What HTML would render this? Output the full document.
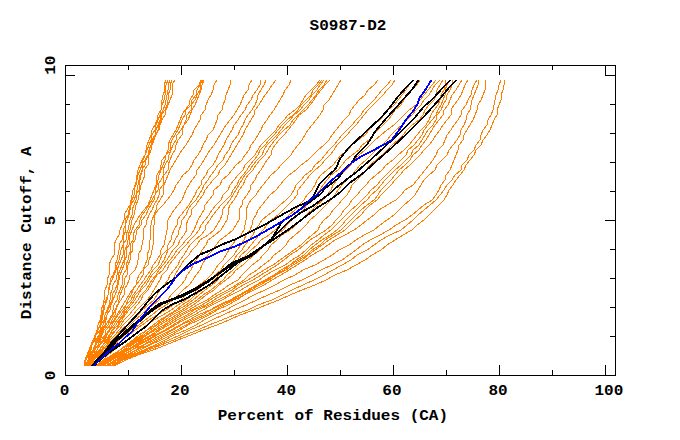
<!DOCTYPE html><html><head><meta charset="utf-8"><style>html,body{margin:0;padding:0;background:#fff;width:680px;height:440px;overflow:hidden}svg{display:block}</style></head><body><svg width="680" height="440" viewBox="0 0 680 440">
<rect width="680" height="440" fill="#fff"/>
<g fill="none" stroke="#ff8000" stroke-width="1" stroke-linecap="square" stroke-linejoin="round" shape-rendering="crispEdges">
<polyline points="166,80 164,85 165,90 163,95 162,100 161,105 161,110 158,115 157,120 155,125 152,130 151,135 149,140 147,145 146,150 145,155 142,160 140,165 138,170 137,175 136,180 136,185 133,190 132,195 131,200 130,205 127,210 124,215 124,220 122,225 120,230 119,235 116,240 114,245 114,250 114,255 111,260 109,265 109,270 109,275 107,280 107,285 105,290 104,295 104,300 103,305 101,310 101,315 100,320 98,325 97,330 96,335 93,340 91,345 89,350 87,355 85,360 84,366"/>
<polyline points="168,80 166,85 165,90 165,95 164,100 162,105 161,110 160,115 158,120 156,125 155,130 152,135 151,140 149,145 147,150 145,155 143,160 142,165 140,170 138,175 137,180 135,185 134,190 134,195 132,200 131,205 129,210 128,215 125,220 126,225 123,230 123,235 122,240 119,245 119,250 118,255 117,260 115,265 115,270 113,275 110,280 110,285 108,290 108,295 106,300 103,305 103,310 102,315 101,320 100,325 98,330 95,335 94,340 92,345 90,350 88,355 85,360 84,366"/>
<polyline points="170,80 168,85 168,90 167,95 166,100 165,105 163,110 161,115 160,120 158,125 156,130 155,135 152,140 151,145 149,150 148,155 145,160 142,165 143,170 140,175 139,180 138,185 137,190 136,195 134,200 131,205 130,210 129,215 127,220 125,225 126,230 124,235 123,240 123,245 121,250 120,255 119,260 117,265 116,270 114,275 112,280 109,285 109,290 108,295 107,300 105,305 104,310 103,315 102,320 101,325 100,330 96,335 95,340 92,345 91,350 89,355 86,360 84,366"/>
<polyline points="172,80 170,85 170,90 168,95 168,100 167,105 165,110 161,115 161,120 159,125 158,130 156,135 153,140 151,145 149,150 149,155 146,160 145,165 142,170 141,175 140,180 139,185 139,190 136,195 136,200 134,205 132,210 132,215 130,220 129,225 128,230 126,235 126,240 123,245 123,250 123,255 121,260 119,265 117,270 117,275 116,280 113,285 112,290 110,295 110,300 109,305 107,310 105,315 104,320 101,325 100,330 99,335 96,340 95,345 93,350 89,355 86,360 85,366"/>
<polyline points="175,80 172,85 173,90 172,95 170,100 168,105 166,110 165,115 162,120 160,125 159,130 155,135 154,140 152,145 151,150 149,155 148,160 148,165 144,170 145,175 143,180 141,185 140,190 139,195 138,200 136,205 135,210 134,215 132,220 131,225 130,230 128,235 128,240 127,245 125,250 124,255 124,260 122,265 120,270 118,275 118,280 117,285 115,290 112,295 112,300 110,305 108,310 107,315 105,320 103,325 101,330 100,335 97,340 95,345 93,350 90,355 88,360 85,366"/>
<polyline points="201,80 199,85 194,90 193,95 190,100 189,105 185,110 182,115 180,120 178,125 176,130 173,135 170,140 168,145 168,150 166,155 162,160 161,165 160,170 157,175 156,180 156,185 154,190 152,195 150,200 148,205 144,210 140,215 137,220 134,225 132,230 130,235 129,240 129,245 126,250 127,255 125,260 124,265 122,270 120,275 119,280 118,285 117,290 115,295 113,300 111,305 110,310 107,315 106,320 105,325 102,330 100,335 98,340 96,345 94,350 91,355 88,360 85,366"/>
<polyline points="202,80 200,85 197,90 196,95 192,100 191,105 186,110 185,115 182,120 180,125 178,130 175,135 172,140 170,145 170,150 166,155 165,160 163,165 161,170 159,175 158,180 157,185 155,190 155,195 152,200 149,205 146,210 142,215 140,220 139,225 135,230 133,235 133,240 130,245 131,250 129,255 128,260 126,265 126,270 123,275 122,280 122,285 120,290 118,295 117,300 114,305 113,310 112,315 109,320 106,325 103,330 101,335 99,340 98,345 93,350 92,355 89,360 86,366"/>
<polyline points="203,80 200,85 200,90 197,95 195,100 191,105 191,110 187,115 186,120 184,125 181,130 177,135 176,140 173,145 171,150 169,155 168,160 165,165 163,170 164,175 161,180 158,185 158,190 155,195 154,200 151,205 148,210 146,215 142,220 141,225 137,230 136,235 135,240 132,245 133,250 130,255 130,260 128,265 127,270 127,275 124,280 124,285 122,290 120,295 119,300 118,305 115,310 113,315 110,320 108,325 104,330 102,335 100,340 98,345 95,350 92,355 90,360 86,366"/>
<polyline points="204,80 202,85 201,90 199,95 197,100 195,105 192,110 190,115 188,120 184,125 182,130 182,135 178,140 176,145 175,150 172,155 170,160 168,165 168,170 164,175 163,180 163,185 159,190 159,195 157,200 154,205 152,210 149,215 147,220 146,225 143,230 143,235 143,240 142,245 141,250 138,255 138,260 137,265 135,270 130,275 129,280 127,285 124,290 124,295 121,300 117,305 116,310 115,315 112,320 110,325 106,330 105,335 101,340 98,345 97,350 93,355 90,360 87,366"/>
<polyline points="217,80 214,85 213,90 211,95 208,100 206,105 205,110 201,115 200,120 197,125 194,130 192,135 189,140 186,145 182,150 179,155 176,160 173,165 170,170 168,175 166,180 164,185 163,190 163,195 160,200 157,205 156,210 154,215 152,220 151,225 150,230 150,235 150,240 149,245 149,250 147,255 147,260 145,265 143,270 139,275 137,280 136,285 132,290 129,295 126,300 123,305 120,310 117,315 114,320 110,325 109,330 106,335 103,340 99,345 97,350 94,355 91,360 87,366"/>
<polyline points="231,80 230,85 228,90 226,95 225,100 223,105 222,110 218,115 217,120 215,125 213,130 208,135 206,140 203,145 201,150 198,155 194,160 192,165 189,170 183,175 180,180 176,185 174,190 171,195 167,200 163,205 158,210 155,215 154,220 154,225 153,230 154,235 153,240 153,245 152,250 151,255 149,260 148,265 143,270 143,275 140,280 136,285 133,290 131,295 128,300 126,305 122,310 118,315 115,320 112,325 110,330 107,335 104,340 100,345 97,350 94,355 91,360 87,366"/>
<polyline points="252,80 249,85 248,90 244,95 242,100 240,105 237,110 234,115 230,120 226,125 223,130 220,135 217,140 214,145 210,150 207,155 204,160 201,165 197,170 196,175 192,180 189,185 186,190 184,195 182,200 178,205 174,210 171,215 168,220 167,225 167,230 166,235 165,240 164,245 161,250 160,255 157,260 153,265 151,270 147,275 144,280 140,285 137,290 133,295 131,300 126,305 124,310 121,315 117,320 114,325 110,330 107,335 105,340 100,345 97,350 95,355 91,360 88,366"/>
<polyline points="261,80 260,85 257,90 253,95 251,100 247,105 245,110 241,115 238,120 234,125 232,130 229,135 226,140 224,145 221,150 218,155 216,160 213,165 208,170 206,175 202,180 201,185 197,190 195,195 192,200 189,205 185,210 181,215 177,220 177,225 174,230 172,235 171,240 168,245 167,250 162,255 160,260 158,265 153,270 150,275 147,280 143,285 140,290 135,295 133,300 129,305 125,310 123,315 119,320 116,325 112,330 110,335 106,340 103,345 99,350 96,355 91,360 88,366"/>
<polyline points="266,80 264,85 261,90 258,95 257,100 255,105 252,110 248,115 245,120 243,125 240,130 238,135 234,140 231,145 229,150 225,155 223,160 218,165 215,170 211,175 208,180 204,185 202,190 199,195 196,200 191,205 188,210 186,215 182,220 181,225 179,230 178,235 175,240 173,245 168,250 166,255 164,260 161,265 157,270 152,275 149,280 146,285 141,290 138,295 135,300 131,305 127,310 124,315 120,320 118,325 113,330 109,335 107,340 103,345 99,350 97,355 92,360 89,366"/>
<polyline points="276,80 272,85 269,90 265,95 262,100 259,105 255,110 254,115 251,120 248,125 245,130 243,135 240,140 237,145 234,150 231,155 228,160 225,165 220,170 218,175 213,180 209,185 205,190 203,195 199,200 196,205 191,210 191,215 188,220 186,225 187,230 184,235 180,240 178,245 173,250 170,255 167,260 163,265 159,270 156,275 152,280 149,285 146,290 141,295 138,300 134,305 129,310 125,315 122,320 119,325 116,330 110,335 108,340 103,345 100,350 97,355 93,360 89,366"/>
<polyline points="291,80 289,85 285,90 283,95 280,100 277,105 274,110 270,115 267,120 263,125 261,130 258,135 255,140 251,145 249,150 245,155 242,160 236,165 232,170 228,175 222,180 220,185 214,190 213,195 209,200 205,205 204,210 201,215 198,220 196,225 194,230 191,235 186,240 182,245 177,250 174,255 170,260 166,265 163,270 157,275 154,280 151,285 148,290 143,295 141,300 137,305 133,310 129,315 124,320 121,325 116,330 112,335 109,340 105,345 101,350 98,355 93,360 89,366"/>
<polyline points="320,80 316,85 311,90 306,95 303,100 300,105 295,110 288,115 284,120 279,125 276,130 271,135 266,140 261,145 258,150 255,155 250,160 245,165 243,170 238,175 234,180 230,185 228,190 223,195 221,200 216,205 212,210 209,215 205,220 201,225 199,230 195,235 190,240 186,245 181,250 177,255 173,260 169,265 167,270 162,275 160,280 157,285 154,290 151,295 147,300 142,305 137,310 133,315 128,320 123,325 119,330 115,335 110,340 107,345 102,350 99,355 94,360 90,366"/>
<polyline points="322,80 318,85 313,90 311,95 306,100 301,105 298,110 293,115 287,120 282,125 278,130 274,135 269,140 265,145 260,150 258,155 254,160 250,165 247,170 243,175 239,180 237,185 233,190 231,195 226,200 221,205 217,210 213,215 210,220 206,225 205,230 201,235 195,240 190,245 187,250 184,255 180,260 178,265 174,270 170,275 168,280 164,285 160,290 157,295 154,300 148,305 142,310 138,315 131,320 127,325 121,330 117,335 112,340 107,345 103,350 100,355 96,360 90,366"/>
<polyline points="324,80 320,85 317,90 312,95 309,100 304,105 300,110 294,115 290,120 285,125 281,130 277,135 272,140 267,145 264,150 262,155 257,160 253,165 250,170 245,175 242,180 239,185 236,190 233,195 230,200 226,205 222,210 222,215 220,220 217,225 214,230 208,235 200,240 197,245 192,250 189,255 184,260 181,265 178,270 175,275 173,280 170,285 166,290 161,295 159,300 153,305 146,310 141,315 135,320 130,325 125,330 118,335 113,340 108,345 105,350 100,355 96,360 91,366"/>
<polyline points="327,80 324,85 319,90 316,95 312,100 308,105 303,110 298,115 293,120 290,125 284,130 279,135 275,140 271,145 268,150 265,155 260,160 256,165 253,170 248,175 245,180 243,185 239,190 237,195 234,200 230,205 228,210 228,215 227,220 224,225 221,230 215,235 208,240 206,245 202,250 200,255 196,260 193,265 191,270 187,275 185,280 181,285 176,290 171,295 168,300 162,305 154,310 146,315 140,320 134,325 129,330 122,335 115,340 112,345 107,350 101,355 96,360 91,366"/>
<polyline points="330,80 325,85 321,90 317,95 314,100 310,105 306,110 299,115 296,120 292,125 288,130 284,135 279,140 275,145 272,150 271,155 267,160 264,165 261,170 257,175 255,180 251,185 250,190 247,195 243,200 242,205 239,210 240,215 239,220 236,225 233,230 227,235 220,240 216,245 213,250 208,255 205,260 202,265 200,270 196,275 193,280 189,285 183,290 178,295 173,300 166,305 158,310 152,315 145,320 139,325 131,330 125,335 119,340 115,345 108,350 103,355 98,360 92,366"/>
<polyline points="341,80 338,85 335,90 332,95 329,100 324,105 323,110 320,115 316,120 312,125 308,130 305,135 302,140 298,145 294,150 291,155 286,160 281,165 277,170 271,175 267,180 263,185 259,190 256,195 251,200 248,205 246,210 246,215 246,220 245,225 244,230 241,235 236,240 232,245 229,250 226,255 223,260 218,265 215,270 211,275 206,280 199,285 193,290 186,295 181,300 173,305 166,310 157,315 149,320 142,325 135,330 129,335 122,340 118,345 111,350 105,355 100,360 94,366"/>
<polyline points="378,80 374,85 368,90 365,95 359,100 355,105 351,110 349,115 344,120 340,125 336,130 332,135 329,140 324,145 318,150 313,155 308,160 301,165 296,170 289,175 284,180 280,185 276,190 270,195 266,200 262,205 258,210 256,215 253,220 252,225 250,230 246,235 244,240 241,245 237,250 234,255 229,260 224,265 221,270 215,275 210,280 203,285 197,290 192,295 186,300 178,305 171,310 163,315 154,320 147,325 140,330 134,335 127,340 121,345 114,350 108,355 103,360 96,366"/>
<polyline points="391,80 387,85 382,90 378,95 374,100 369,105 364,110 361,115 356,120 352,125 347,130 342,135 338,140 334,145 329,150 325,155 321,160 315,165 312,170 305,175 301,180 296,185 294,190 291,195 286,200 280,205 275,210 268,215 262,220 259,225 255,230 253,235 249,240 245,245 242,250 237,255 234,260 230,265 224,270 219,275 214,280 209,285 202,290 195,295 190,300 182,305 176,310 168,315 160,320 153,325 147,330 139,335 133,340 126,345 120,350 112,355 104,360 97,366"/>
<polyline points="395,80 392,85 387,90 383,95 378,100 373,105 368,110 364,115 360,120 356,125 351,130 347,135 342,140 337,145 334,150 330,155 325,160 321,165 315,170 310,175 306,180 302,185 298,190 297,195 293,200 288,205 283,210 278,215 271,220 267,225 263,230 259,235 255,240 251,245 247,250 241,255 238,260 233,265 228,270 221,275 218,280 212,285 205,290 199,295 193,300 186,305 178,310 169,315 162,320 156,325 147,330 142,335 134,340 127,345 120,350 113,355 104,360 97,366"/>
<polyline points="414,80 409,85 406,90 402,95 398,100 394,105 388,110 384,115 380,120 373,125 369,130 365,135 358,140 352,145 348,150 341,155 337,160 333,165 327,170 321,175 317,180 315,185 312,190 307,195 304,200 299,205 295,210 289,215 284,220 280,225 275,230 269,235 261,240 257,245 251,250 246,255 243,260 238,265 233,270 227,275 223,280 217,285 211,290 203,295 197,300 189,305 182,310 172,315 165,320 157,325 150,330 144,335 136,340 128,345 120,350 114,355 106,360 98,366"/>
<polyline points="420,80 417,85 412,90 407,95 404,100 401,105 395,110 392,115 388,120 383,125 378,130 373,135 369,140 362,145 359,150 352,155 346,160 342,165 338,170 331,175 327,180 323,185 320,190 316,195 313,200 307,205 303,210 298,215 292,220 287,225 283,230 275,235 270,240 264,245 260,250 254,255 248,260 243,265 236,270 232,275 226,280 219,285 214,290 206,295 200,300 193,305 185,310 176,315 168,320 160,325 153,330 146,335 138,340 130,345 123,350 115,355 106,360 99,366"/>
<polyline points="436,80 432,85 428,90 424,95 420,100 416,105 409,110 404,115 399,120 394,125 387,130 381,135 375,140 370,145 365,150 359,155 354,160 351,165 346,170 341,175 337,180 333,185 331,190 327,195 323,200 317,205 312,210 306,215 301,220 296,225 290,230 282,235 277,240 271,245 268,250 263,255 259,260 252,265 247,270 242,275 238,280 229,285 222,290 214,295 207,300 197,305 189,310 179,315 171,320 164,325 155,330 147,335 140,340 132,345 125,350 116,355 107,360 99,366"/>
<polyline points="440,80 435,85 432,90 429,95 424,100 421,105 416,110 412,115 407,120 402,125 396,130 391,135 387,140 382,145 376,150 371,155 366,160 360,165 356,170 352,175 347,180 342,185 338,190 335,195 331,200 326,205 321,210 316,215 310,220 306,225 301,230 295,235 289,240 286,245 281,250 274,255 270,260 263,265 257,270 249,275 244,280 236,285 228,290 218,295 210,300 202,305 192,310 182,315 174,320 166,325 158,330 151,335 142,340 135,345 127,350 117,355 109,360 100,366"/>
<polyline points="443,80 440,85 437,90 436,95 434,100 429,105 425,110 423,115 419,120 412,125 407,130 403,135 398,140 392,145 387,150 382,155 376,160 370,165 366,170 362,175 357,180 352,185 350,190 347,195 342,200 338,205 333,210 330,215 324,220 320,225 318,230 312,235 306,240 301,245 294,250 287,255 280,260 273,265 264,270 256,275 248,280 238,285 232,290 222,295 214,300 206,305 194,310 187,315 177,320 169,325 160,330 153,335 144,340 136,345 128,350 119,355 111,360 101,366"/>
<polyline points="446,80 445,85 444,90 441,95 440,100 438,105 434,110 431,115 429,120 426,125 421,130 417,135 413,140 409,145 404,150 398,155 393,160 386,165 382,170 376,175 370,180 366,185 361,190 357,195 352,200 349,205 344,210 341,215 336,220 332,225 326,230 318,235 310,240 304,245 298,250 290,255 284,260 277,265 269,270 261,275 253,280 243,285 235,290 228,295 218,300 209,305 198,310 190,315 181,320 173,325 165,330 155,335 147,340 137,345 129,350 120,355 110,360 102,366"/>
<polyline points="450,80 447,85 445,90 445,95 443,100 441,105 438,110 436,115 432,120 428,125 424,130 422,135 418,140 414,145 408,150 406,155 401,160 396,165 391,170 386,175 381,180 377,185 371,190 367,195 362,200 357,205 351,210 346,215 341,220 336,225 331,230 324,235 318,240 311,245 306,250 300,255 292,260 285,265 275,270 266,275 259,280 249,285 241,290 231,295 222,300 212,305 203,310 194,315 184,320 175,325 167,330 157,335 149,340 139,345 132,350 122,355 112,360 103,366"/>
<polyline points="453,80 452,85 450,90 447,95 446,100 443,105 441,110 437,115 436,120 433,125 428,130 425,135 422,140 419,145 413,150 411,155 406,160 401,165 395,170 390,175 385,180 381,185 377,190 371,195 367,200 361,205 356,210 351,215 346,220 342,225 337,230 330,235 322,240 315,245 309,250 304,255 296,260 290,265 281,270 274,275 265,280 256,285 248,290 239,295 230,300 219,305 210,310 198,315 189,320 180,325 171,330 161,335 152,340 143,345 132,350 124,355 115,360 105,366"/>
<polyline points="462,80 459,85 456,90 452,95 450,100 448,105 444,110 443,115 439,120 435,125 432,130 429,135 426,140 422,145 419,150 413,155 410,160 405,165 399,170 395,175 391,180 386,185 381,190 378,195 374,200 367,205 361,210 356,215 351,220 346,225 341,230 333,235 325,240 320,245 312,250 307,255 299,260 290,265 284,270 274,275 267,280 257,285 249,290 241,295 232,300 221,305 211,310 202,315 192,320 181,325 173,330 164,335 155,340 144,345 136,350 126,355 115,360 106,366"/>
<polyline points="468,80 465,85 463,90 461,95 458,100 454,105 451,110 451,115 447,120 443,125 440,130 436,135 433,140 429,145 424,150 420,155 415,160 410,165 404,170 400,175 395,180 391,185 386,190 381,195 377,200 370,205 365,210 361,215 355,220 350,225 345,230 337,235 329,240 322,245 315,250 308,255 302,260 293,265 286,270 276,275 269,280 260,285 251,290 244,295 234,300 224,305 215,310 206,315 195,320 186,325 177,330 167,335 158,340 148,345 137,350 128,355 117,360 107,366"/>
<polyline points="477,80 474,85 472,90 471,95 468,100 466,105 462,110 461,115 458,120 454,125 451,130 447,135 445,140 443,145 438,150 436,155 433,160 429,165 425,170 421,175 417,180 413,185 405,190 401,195 396,200 387,205 379,210 374,215 367,220 361,225 354,230 345,235 335,240 328,245 321,250 312,255 305,260 297,265 289,270 281,275 272,280 264,285 254,290 244,295 237,300 228,305 217,310 209,315 199,320 188,325 180,330 171,335 161,340 150,345 140,350 130,355 118,360 108,366"/>
<polyline points="479,80 478,85 476,90 474,95 472,100 471,105 470,110 467,115 466,120 464,125 461,130 460,135 457,140 453,145 449,150 447,155 442,160 437,165 435,170 429,175 424,180 421,185 418,190 415,195 410,200 404,205 399,210 394,215 387,220 380,225 374,230 364,235 356,240 349,245 339,250 332,255 324,260 315,265 303,270 295,275 284,280 275,285 265,290 254,295 245,300 235,305 226,310 214,315 204,320 196,325 186,330 174,335 165,340 155,345 144,350 132,355 120,360 110,366"/>
<polyline points="486,80 485,85 485,90 483,95 481,100 478,105 477,110 475,115 473,120 470,125 467,130 464,135 463,140 459,145 458,150 456,155 454,160 452,165 450,170 446,175 445,180 441,185 439,190 436,195 432,200 424,205 418,210 412,215 405,220 396,225 389,230 380,235 370,240 362,245 356,250 349,255 342,260 332,265 321,270 312,275 302,280 290,285 280,290 268,295 257,300 246,305 234,310 223,315 212,320 202,325 190,330 180,335 169,340 158,345 146,350 134,355 122,360 111,366"/>
<polyline points="501,80 499,85 498,90 496,95 495,100 494,105 493,110 491,115 488,120 487,125 483,130 481,135 480,140 476,145 474,150 469,155 467,160 462,165 461,170 455,175 452,180 447,185 444,190 440,195 436,200 430,205 424,210 418,215 413,220 407,225 401,230 390,235 381,240 374,245 367,250 357,255 351,260 342,265 333,270 324,275 314,280 303,285 292,290 282,295 272,300 258,305 248,310 234,315 222,320 209,325 198,330 185,335 174,340 161,345 149,350 136,355 123,360 113,366"/>
<polyline points="504,80 504,85 503,90 501,95 501,100 499,105 497,110 497,115 494,120 492,125 490,130 487,135 483,140 481,145 476,150 474,155 470,160 466,165 464,170 460,175 456,180 453,185 449,190 447,195 444,200 439,205 434,210 429,215 424,220 417,225 412,230 403,235 395,240 387,245 381,250 372,255 365,260 356,265 347,270 335,275 326,280 315,285 302,290 290,295 279,300 266,305 254,310 240,315 229,320 217,325 203,330 191,335 178,340 166,345 153,350 138,355 126,360 114,366"/>
</g>
<g fill="none" stroke="#000" stroke-width="1" shape-rendering="crispEdges">
<polyline points="413,80 406,87 398,96 389,108 381,117 365,132 348,148 340,158 339,160 336,167 334,170 327,176 319,184 316,190 313,196 310,200 304,203 297,206 286,212 279,216 265,224 251,231 241,236 235,239 222,244 210,250 200,254 194,259 186,266 176,277 166,284 161,288 154,294 147,302 139,312 128,324 118,335 112,341 104,352 91,366"/>
<polyline points="414,80 407,87 399,96 390,108 382,117 365,133 349,148 341,158 340,160 337,167 335,170 327,177 320,184 317,190 314,196 310,201 304,204 297,207 286,213 279,217 265,225 251,232 241,237 235,240 222,245 210,251 200,255 194,260 187,266 176,278 166,285 161,289 155,294 148,302 140,312 129,324 119,335 113,341 105,352 92,366"/>
<polyline points="418,80 412,89 403,99 397,106 386,118 375,131 367,144 359,152 356,155 351,163 345,168 338,178 325,188 321,193 312,200 306,204 300,209 292,215 286,218 280,224 276,231 271,239 265,244 252,255 231,265 210,279 195,288 181,295 169,300 160,303 154,307 146,314 136,322 129,328 121,335 115,340 105,352 92,366"/>
<polyline points="419,80 413,89 404,99 398,106 387,118 376,131 368,144 360,152 357,155 352,163 346,168 339,178 325,189 321,194 312,201 306,205 300,210 292,216 286,219 281,224 277,231 272,239 265,245 252,256 231,266 210,280 195,289 181,296 169,301 160,304 154,308 146,315 136,323 129,329 121,336 116,340 106,352 93,366"/>
<polyline points="450,80 443,87 432,99 423,107 414,118 405,127 399,133 385,146 371,159 365,164 356,172 349,177 343,182 335,188 330,193 319,201 312,206 301,212 290,220 272,238 254,253 231,263 210,280 196,289 182,296 170,300 161,304 155,308 146,315 137,323 130,329 122,336 116,341 106,353 93,366"/>
<polyline points="451,80 444,87 433,99 424,107 415,118 406,127 399,134 385,147 371,160 365,165 356,173 349,178 343,183 335,189 330,194 319,202 312,207 301,213 290,221 272,239 254,254 231,264 210,281 196,290 182,297 170,301 161,305 155,309 146,316 137,324 130,330 122,337 117,341 107,353 94,366"/>
<polyline points="456,80 449,87 440,98 433,106 422,118 413,127 408,132 392,147 376,161 365,171 356,178 350,182 344,188 340,192 329,200 319,206 312,211 303,218 290,228 272,240 255,251 238,262 210,284 195,293 184,299 172,304 162,310 154,318 146,326 136,333 127,340 118,346 109,352 97,362 94,366"/>
<polyline points="457,80 450,87 441,98 434,106 423,118 414,127 408,133 392,148 376,162 365,172 356,179 350,183 345,188 340,193 329,201 319,207 312,212 303,219 290,229 272,241 255,252 238,263 210,285 195,294 184,300 172,305 162,311 155,318 146,327 136,334 127,341 118,347 109,353 97,363 95,366"/>
</g>
<g fill="none" stroke="#0000ff" stroke-width="1" shape-rendering="crispEdges">
<polyline points="431,80 424,91 419,98 417,104 412,112 406,119 398,131 391,140 384,144 371,151 361,156 352,162 347,167 335,177 327,184 316,195 309,200 303,207 295,213 282,221 270,228 256,236 244,242 235,246 220,251 210,256 192,264 179,273 172,282 167,289 160,296 150,306 143,315 136,324 132,331 124,338 120,342 111,349 100,359 93,366"/>
<polyline points="432,80 425,91 420,98 418,104 413,112 407,119 399,131 391,141 384,145 371,152 361,157 352,163 347,168 335,178 327,185 316,196 309,201 303,208 295,214 282,222 270,229 256,237 244,243 235,247 220,252 210,257 192,265 179,274 173,282 168,289 161,296 151,306 144,315 137,324 133,331 124,339 120,343 111,350 100,360 94,366"/>
</g>
<g fill="none" stroke="#000" stroke-width="1" shape-rendering="crispEdges">
<rect x="65.5" y="65.5" width="550" height="310"/>
<path d="M128.5 375V370 M128.5 65V70 M181.5 375V365 M181.5 65V75 M234.5 375V370 M234.5 65V70 M287.5 375V365 M287.5 65V75 M340.5 375V370 M340.5 65V70 M393.5 375V365 M393.5 65V75 M446.5 375V370 M446.5 65V70 M499.5 375V365 M499.5 65V75 M552.5 375V370 M552.5 65V70 M605.5 375V365 M605.5 65V75 M65 336.5H70 M615 336.5H610 M65 307.5H70 M615 307.5H610 M65 278.5H70 M615 278.5H610 M65 249.5H70 M615 249.5H610 M65 220.5H75 M615 220.5H605 M65 191.5H70 M615 191.5H610 M65 162.5H70 M615 162.5H610 M65 133.5H70 M615 133.5H610 M65 104.5H70 M615 104.5H610 M65 75.5H75 M615 75.5H605"/>
</g>
<g font-family="Liberation Mono, monospace" font-weight="bold" font-size="16" fill="#000" text-anchor="middle">
<text transform="translate(348.0 29.9) scale(1 0.87)">S0987-D2</text>
<text transform="translate(332.9 419.9) scale(1 0.87)">Percent of Residues (CA)</text>
<text transform="translate(30.7 232.8) rotate(-90) scale(1 0.87)">Distance Cutoff, A</text>
<text transform="translate(64.55 395.0) scale(1 0.87)">0</text>
<text transform="translate(179.9 395.0) scale(1 0.87)">20</text>
<text transform="translate(286.4 395.0) scale(1 0.87)">40</text>
<text transform="translate(391.95 395.0) scale(1 0.87)">60</text>
<text transform="translate(498.05 395.0) scale(1 0.87)">80</text>
<text transform="translate(608.9 395.0) scale(1 0.87)">100</text>
<text transform="translate(55.1 375.4) rotate(-90) scale(1 0.87)">0</text>
<text transform="translate(55.1 220.45) rotate(-90) scale(1 0.87)">5</text>
<text transform="translate(55.1 65.2) rotate(-90) scale(1 0.87)">10</text>
</g>
</svg></body></html>
